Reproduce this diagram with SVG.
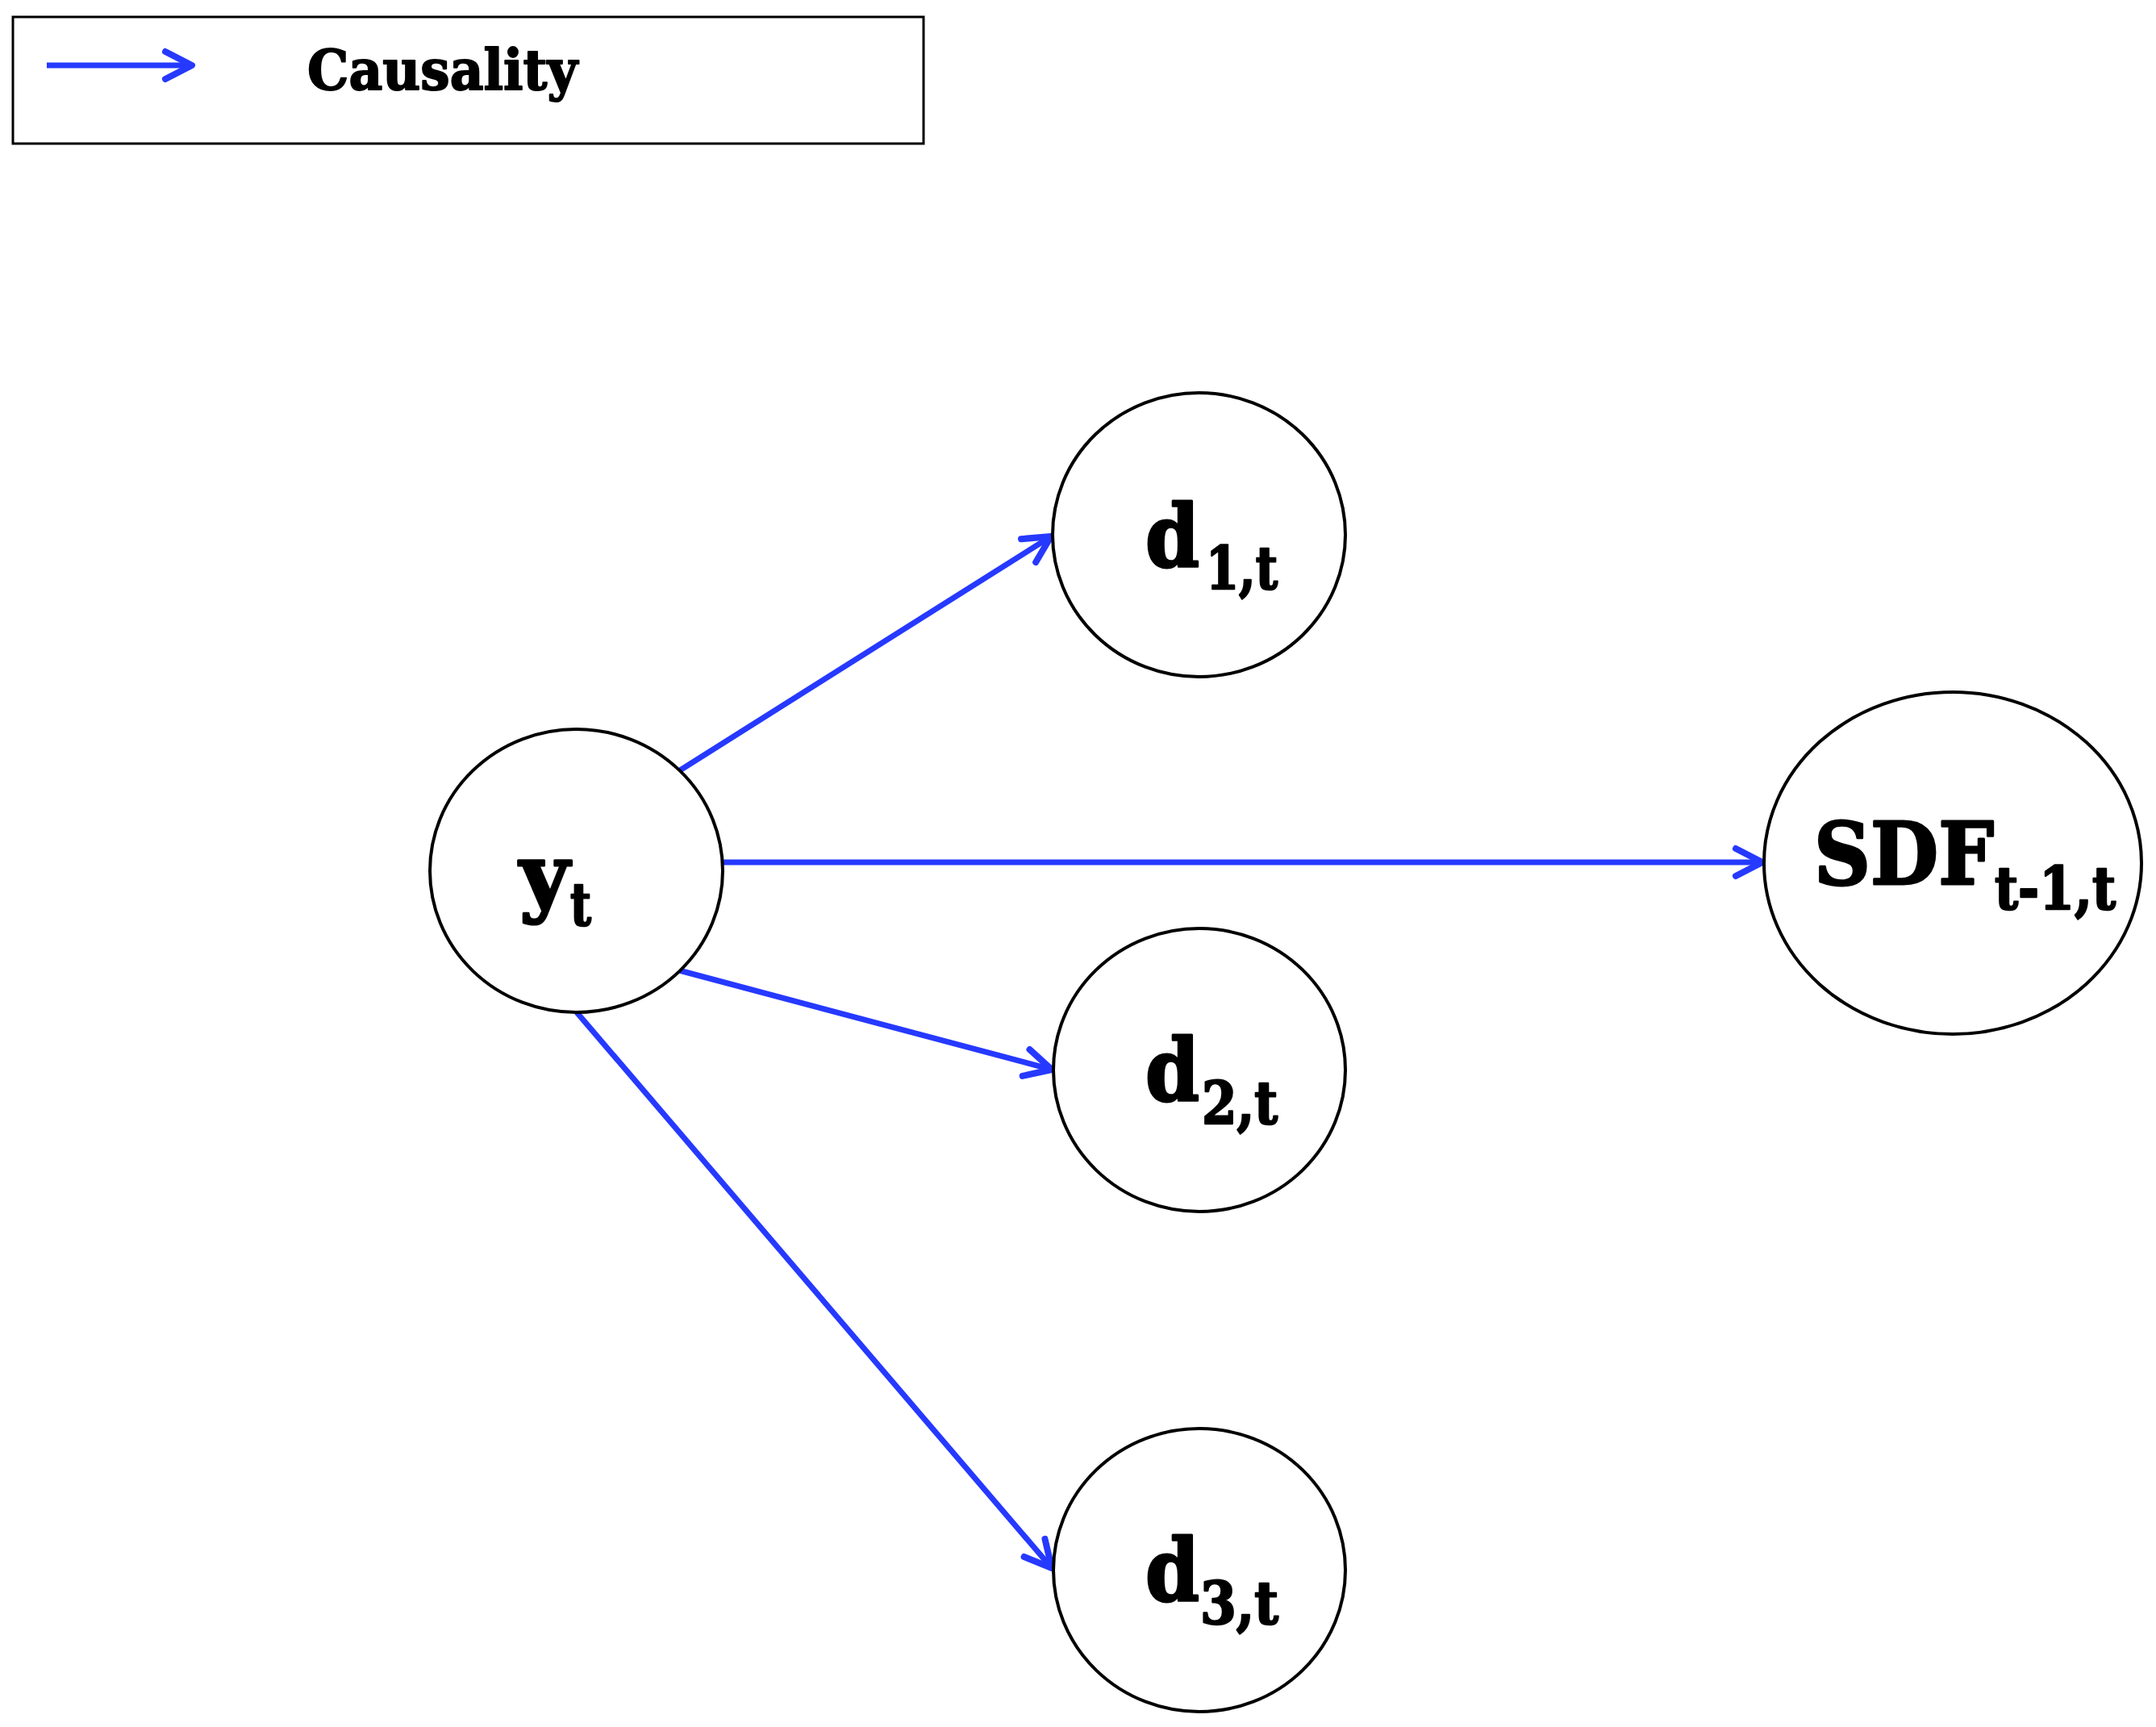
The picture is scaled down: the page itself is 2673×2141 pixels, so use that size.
<svg xmlns="http://www.w3.org/2000/svg" width="2673" height="2141" viewBox="0 0 2673 2141">
<style>
.node{fill:#fff;stroke:#000;stroke-width:4}
.edge{stroke:#2639ff;stroke-width:7;fill:none;marker-end:url(#arr)}
.lbl{font-family:"DejaVu Serif","Liberation Serif",serif;font-weight:bold;fill:#000;stroke:#000;stroke-linejoin:round}
.main{font-size:106px;stroke-width:3}
.sub{font-size:72px;stroke-width:2.5}
</style>
<defs>
<marker id="arr" markerUnits="userSpaceOnUse" markerWidth="80" markerHeight="80" refX="0" refY="0" orient="auto" overflow="visible">
<path d="M -33 -17 L 0 0 L -33 17" fill="none" stroke="#2639ff" stroke-width="8" stroke-linecap="round" stroke-linejoin="round"/>
</marker>
</defs>
<rect width="2673" height="2141" fill="#fff"/>
<g id="legend">
<rect x="16" y="21" width="1129" height="157" fill="#fff" stroke="#000" stroke-width="3"/>
<line class="edge" x1="58" y1="81" x2="238" y2="81"/>
<text class="lbl" x="381" y="111" font-size="70" stroke-width="2" textLength="335" lengthAdjust="spacingAndGlyphs">Causality</text>
</g>
<g id="connectors">
<line class="edge" x1="843" y1="955" x2="1303" y2="665"/>
<line class="edge" x1="896" y1="1069" x2="2185" y2="1069"/>
<line class="edge" x1="842" y1="1203" x2="1304" y2="1326"/>
<line class="edge" x1="715" y1="1255" x2="1304" y2="1944"/>
</g>
<g id="node-yt">
<ellipse class="node" cx="714.5" cy="1079.5" rx="181.5" ry="175.5"/>
<text class="lbl main" x="644" y="1122" textLength="62" lengthAdjust="spacingAndGlyphs">y</text>
<text class="lbl sub" x="707" y="1147" textLength="26" lengthAdjust="spacingAndGlyphs">t</text>
</g>
<g id="node-d1">
<ellipse class="node" cx="1486.5" cy="663" rx="181.5" ry="176"/>
<text class="lbl main" x="1420" y="702" textLength="67" lengthAdjust="spacingAndGlyphs">d</text>
<text class="lbl sub" x="1495" y="730" textLength="89" lengthAdjust="spacingAndGlyphs">1,t</text>
</g>
<g id="node-d2">
<ellipse class="node" cx="1487" cy="1326.5" rx="181" ry="175.5"/>
<text class="lbl main" x="1420" y="1364" textLength="67" lengthAdjust="spacingAndGlyphs">d</text>
<text class="lbl sub" x="1490" y="1393" textLength="94" lengthAdjust="spacingAndGlyphs">2,t</text>
</g>
<g id="node-d3">
<ellipse class="node" cx="1487" cy="1946.5" rx="181" ry="175.5"/>
<text class="lbl main" x="1420" y="1984" textLength="67" lengthAdjust="spacingAndGlyphs">d</text>
<text class="lbl sub" x="1488" y="2013" textLength="97" lengthAdjust="spacingAndGlyphs">3,t</text>
</g>
<g id="node-sdf">
<ellipse class="node" cx="2421" cy="1070" rx="234" ry="212"/>
<text class="lbl main" x="2249" y="1096" textLength="223" lengthAdjust="spacingAndGlyphs">SDF</text>
<text class="lbl sub" x="2473" y="1127" textLength="150" lengthAdjust="spacingAndGlyphs">t-1,t</text>
</g>
</svg>
